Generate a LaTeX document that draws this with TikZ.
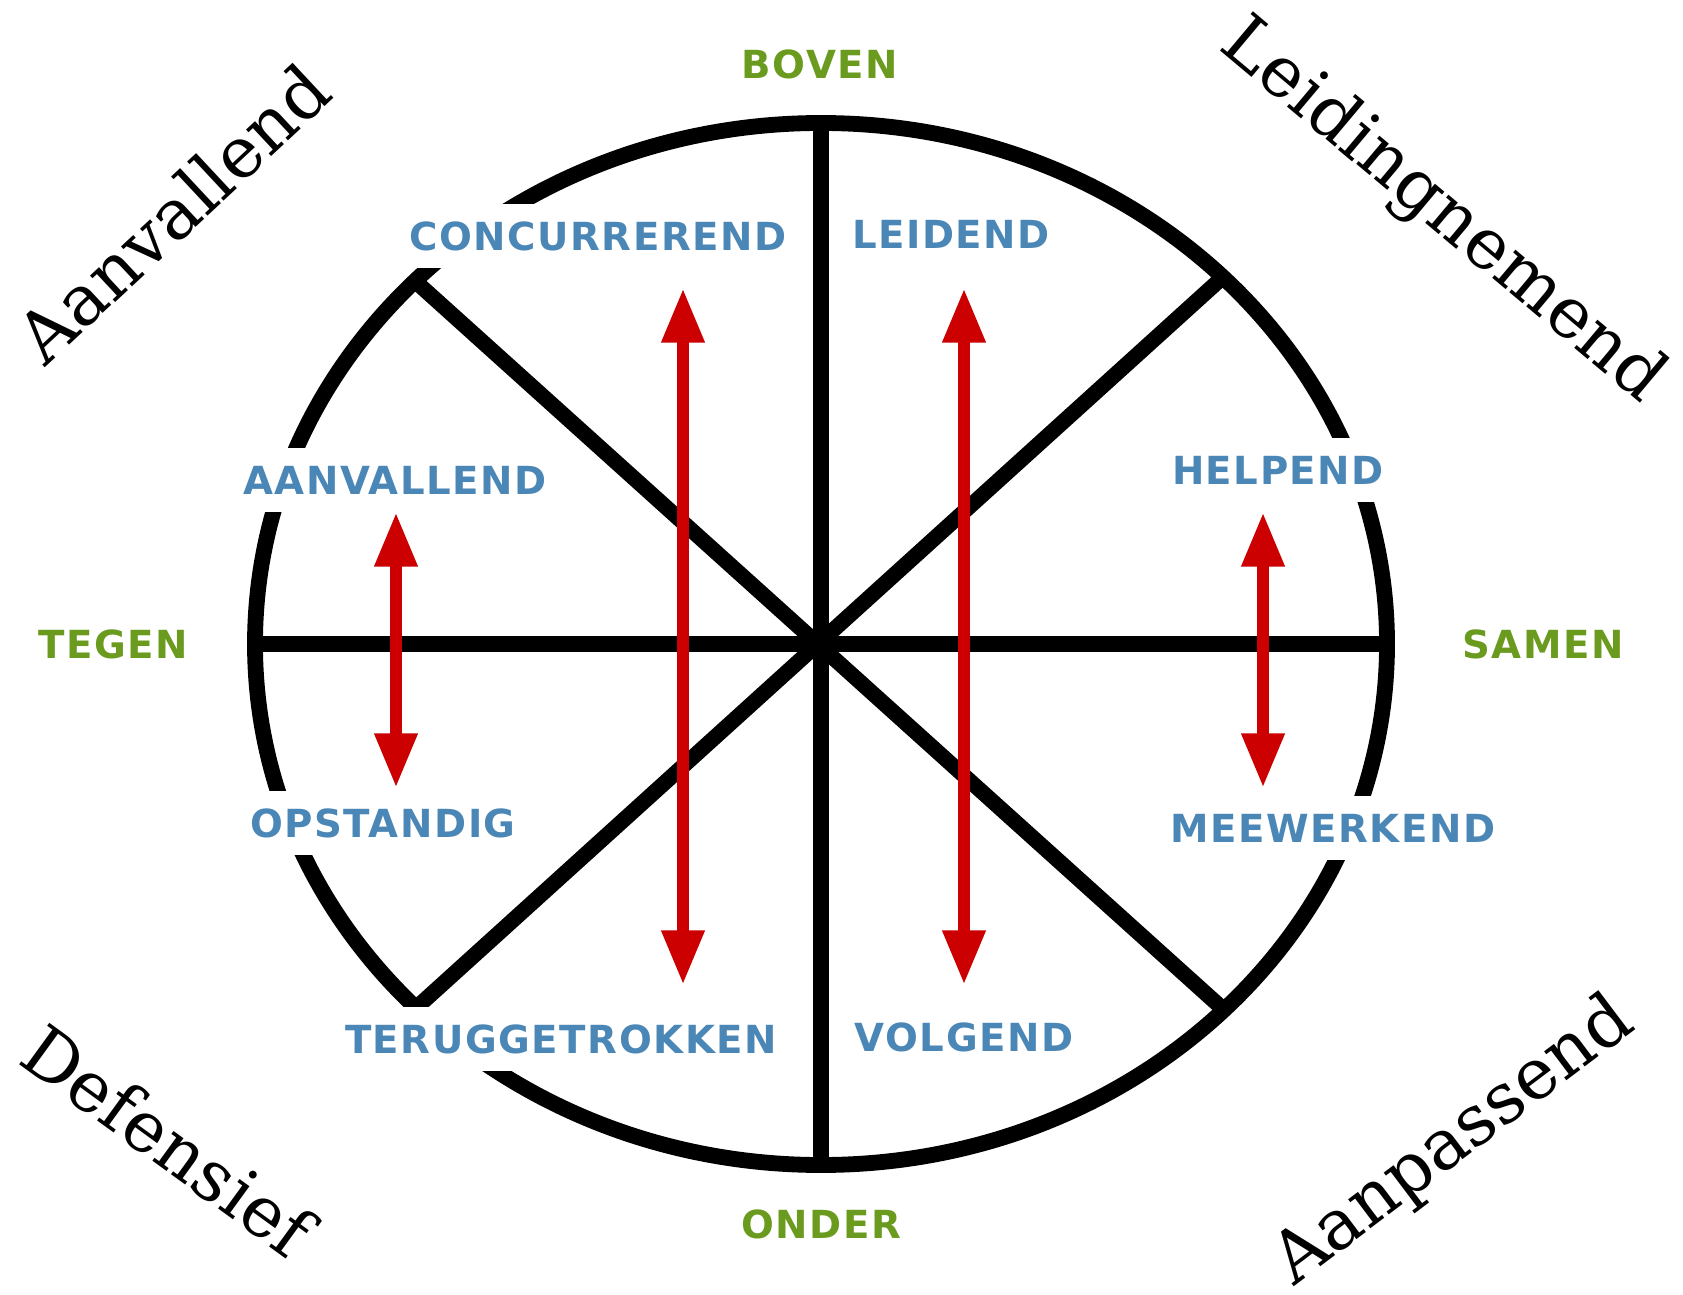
\documentclass[tikz,border=0pt]{standalone}
\usepackage{fontspec}
\usetikzlibrary{arrows.meta}
\newfontfamily\lblfont[LetterSpace=4]{DejaVu Sans}
\newfontfamily\serfont{DejaVu Serif}
\definecolor{lblue}{RGB}{75,135,182}
\definecolor{lgreen}{RGB}{107,155,30}
\definecolor{arred}{RGB}{204,0,0}
\begin{document}
\begin{tikzpicture}[x=0.01cm,y=-0.01cm,
  ring/.style={line width=4.5pt,draw=black},
  spoke/.style={line width=4.4pt,draw=black},
  bluelbl/.style={fill=white,text=lblue,font=\lblfont\bfseries\fontsize{11}{13}\selectfont,
    inner xsep=4pt,inner ysep=5.1pt,text height=8pt,text depth=0pt},
  greenlbl/.style={text=lgreen,font=\lblfont\bfseries\fontsize{11}{13}\selectfont,
    inner sep=0pt,text height=8pt,text depth=0pt},
  cornerlbl/.style={font=\serfont\fontsize{20}{24}\selectfont,inner sep=0pt},
  redarrow/.style={line width=3.5pt,draw=arred,
    {Triangle[length=15.5pt,width=11.4pt]}-{Triangle[length=15.5pt,width=11.4pt]}}
]
\fill[white] (0,0) rectangle (1683,1295);
\useasboundingbox (0,0) rectangle (1683,1295);

\coordinate (C) at (821,644);
\draw[ring] (C) ellipse [x radius=566, y radius=521];

\coordinate (L) at (255,644);
\coordinate (R) at (1387,644);
\coordinate (T) at (821,123);
\coordinate (B) at (821,1165);
\coordinate (UL) at (415,281);
\coordinate (UR) at (1223,277);
\coordinate (LL) at (416,1008);
\coordinate (LR) at (1223,1009);
\draw[spoke] (L) -- (R);
\draw[spoke] (T) -- (B);
\draw[spoke] (UL) -- (LR);
\draw[spoke] (LL) -- (UR);

\node[bluelbl] (conc) at (598,236) {CONCURREREND};
\node[bluelbl] (leid) at (951,234) {LEIDEND};
\node[bluelbl] (aanv) at (395,480) {AANVALLEND};
\node[bluelbl] (opst) at (383,823) {OPSTANDIG};
\node[bluelbl] (help) at (1278,470) {HELPEND};
\node[bluelbl] (meew) at (1333,828) {MEEWERKEND};
\node[bluelbl] (teru) at (561,1039) {TERUGGETROKKEN};
\node[bluelbl] (volg) at (964,1037) {VOLGEND};

\coordinate (a1t) at (396,512);
\coordinate (a1b) at (396,788);
\coordinate (a2t) at (683,288);
\coordinate (a2b) at (683,985);
\coordinate (a3t) at (964,288);
\coordinate (a3b) at (964,985);
\coordinate (a4t) at (1263,512);
\coordinate (a4b) at (1263,788);
\draw[redarrow] (a1t) -- (a1b);
\draw[redarrow] (a2t) -- (a2b);
\draw[redarrow] (a3t) -- (a3b);
\draw[redarrow] (a4t) -- (a4b);

\node[greenlbl] (boven) at (820,64) {BOVEN};
\node[greenlbl] (tegen) at (113,644) {TEGEN};
\node[greenlbl] (samen) at (1543,644) {SAMEN};
\node[greenlbl] (onder) at (821,1224) {ONDER};

\node[cornerlbl,rotate=43] (caanv) at (173,213) {Aanvallend};
\node[cornerlbl,rotate=-40] (cleid) at (1442,212) {Leidingnemend};
\node[cornerlbl,rotate=-36] (cdef) at (168,1140) {Defensief};
\node[cornerlbl,rotate=37] (caanp) at (1454,1142) {Aanpassend};
\end{tikzpicture}
\end{document}
